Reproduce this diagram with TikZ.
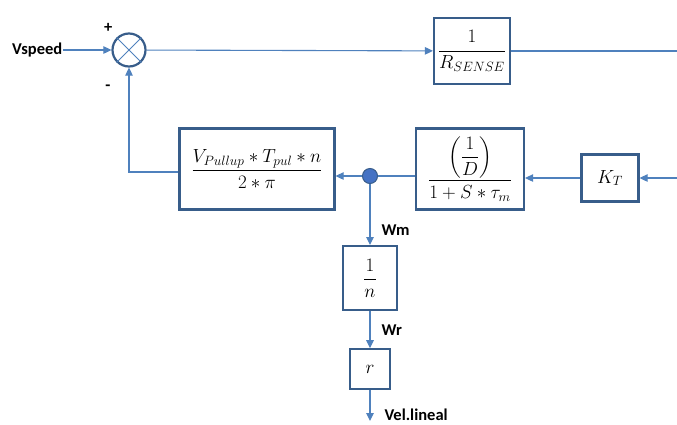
\RequirePackage{fix-cm}
\documentclass[tikz,border=0pt]{standalone}
\usepackage{amsmath}
\usepackage{fontspec}
\newfontfamily\lblfont{Carlito}
\usetikzlibrary{positioning, arrows.meta}
\DeclareMathSizes{19}{19}{13.5}{10}
\definecolor{cBoxLine}{HTML}{385D8A}
\definecolor{cFlow}{HTML}{4F81BD}
\definecolor{cDot}{HTML}{4472C4}

\begin{document}
\begin{tikzpicture}[x=1pt, y=-1pt,
  font=\fontsize{19}{22}\selectfont,
  >={Triangle[length=8pt,width=7.5pt]},
  block/.style={draw=cBoxLine, line width=2.2pt, fill=white, inner sep=2pt, align=center},
  sumpt/.style={circle, draw=cBoxLine, line width=2.2pt, minimum size=33pt, inner sep=0pt},
  tap/.style={circle, draw=cBoxLine, fill=cDot, line width=1pt, minimum size=15pt, inner sep=0pt},
  lbl/.style={font=\lblfont\bfseries\fontsize{16.5}{18}\selectfont, inner sep=1pt},
  flow/.style={->, line width=1.1pt, draw=cFlow}
]
\useasboundingbox (0,0) rectangle (677,424);

\node[sumpt] (sum) at (129,50) {};
\draw[cFlow, line width=0.9pt] (sum.north west) -- (sum.south east) (sum.north east) -- (sum.south west);
\node[lbl, left=48pt of sum] (vspeed) {Vspeed};
\node[lbl, above left=4pt and 3pt of sum.north west] (plus) {+};
\node[lbl, below left=21pt and 5pt of sum.south west] (minus) {-};

\node[block, minimum width=76pt, minimum height=66pt] (rsense) at (472,51)
  {$\dfrac{1}{R_{SENSE}}$};
\coordinate (rout) at (677,51);

\node[block, minimum width=155pt, minimum height=81pt] (vpull) at (257,169)
  {$\dfrac{V_{Pullup}*T_{pul}*n}{2*\pi}$};
\node[block, minimum width=108pt, minimum height=81pt] (dbox) at (470,169)
  {$\dfrac{\left(\dfrac{1}{D}\right)}{1+S*\tau_m}$};
\node[block, minimum width=57pt, minimum height=47pt] (kt) at (610,178)
  {$K_T$};
\coordinate (ktin) at (677,178);
\node[tap] (dot) at (370,176) {};

\node[block, minimum width=54pt, minimum height=64pt, below=61pt of dot] (ninv)
  {$\dfrac{1}{n}$};
\node[block, minimum width=40pt, minimum height=40pt, below=37pt of ninv] (rbox)
  {$r$};
\coordinate (velout) at (370,421);

% forward path
\draw[flow] (vspeed) -- (sum);
\draw[flow] (sum) -- (rsense);
\draw[line width=1.1pt, draw=cFlow] (rsense) -- (rout);

% motor path and feedback
\draw[flow] (ktin) -- (kt);
\draw[flow] (kt.west) -- (kt.west -| dbox.east);
\draw[line width=1.1pt, draw=cFlow] (dbox.west |- dot) -- (dot);
\draw[flow] (dot) -- (dot -| vpull.east);
\draw[flow] (vpull.west |- 0,172) -| (sum.south);

% speed outputs
\draw[flow] (dot) -- node[lbl, pos=0.75, right=10pt]{Wm} (ninv);
\draw[flow] (ninv) -- node[lbl, pos=0.5, right=10pt]{Wr} (rbox);
\draw[flow] (rbox) -- node[lbl, pos=0.8, right=13pt]{Vel.lineal} (velout);
\end{tikzpicture}
\end{document}
